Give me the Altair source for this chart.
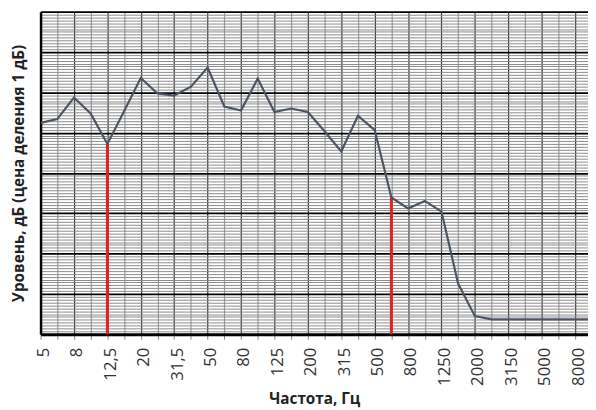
import json
import altair as alt
import pandas as pd

# Frequency categories (1/3-octave), labels use comma decimal
categories = ["5", "6,3", "8", "10", "12,5", "16", "20", "25", "31,5", "40",
              "50", "63", "80", "100", "125", "160", "200", "250", "315", "400",
              "500", "630", "800", "1000", "1250", "1600", "2000", "2500", "3150",
              "4000", "5000", "6300", "8000", "10000"]

# Level readings (units of 1 dB, arbitrary zero at bottom of grid)
levels = [73.4, 74.7, 82.2, 76.7, 66.1, 77.4, 89.0, 83.6, 82.9, 86.0,
          92.6, 79.1, 77.7, 88.8, 77.2, 78.4, 77.2, 70.5, 63.5, 75.9,
          70.9, 47.5, 43.7, 46.3, 42.6, 17.5, 6.3, 5.2, 5.2,
          5.2, 5.2, 5.2, 5.2, 5.2]

# Red marker lines (category index, level)
marker_idx = [4, 21]

df = pd.DataFrame({"i": list(range(len(categories))), "level": levels})
df_mark = pd.DataFrame({"i": marker_idx,
                        "level": [levels[k] for k in marker_idx],
                        "base": [0] * len(marker_idx)})

label_expr = ("datum.value % 2 === 0 ? " + json.dumps(categories) +
              "[datum.value] : ''")

x_scale = alt.Scale(domain=[0, 32.77], nice=False, zero=False)
y_scale = alt.Scale(domain=[0, 112], nice=False, zero=False)

x_axis = alt.Axis(
    title="Частота, Гц",
    values=list(range(0, 33)),
    tickCount=1000,
    labelExpr=label_expr,
    labelAngle=-90,
    labelAlign="right",
    labelBaseline="middle",
    labelFont="Open Sans",
    labelFontSize=17,
    labelColor="#333333",
    labelPadding=8,
    labelOffset=3,
    labelOverlap=False,
    labelFlush=False,
    tickSize=5,
    tickColor="#888888",
    domainColor="black",
    domainWidth=3,
    grid=True,
    gridColor={"condition": {"test": "datum.value % 2 === 0", "value": "#333333"},
               "value": "#9a9a9a"},
    gridWidth=1.2,
    gridOpacity=1,
    titleFont="Open Sans",
    titleFontSize=15.5,
    titleFontWeight="bold",
    titleColor="#222222",
    titlePadding=6,
)

y_axis = alt.Axis(
    title="Уровень, дБ (цена деления 1 дБ)",
    values=list(range(0, 113)),
    tickCount=1000,
    labels=False,
    ticks=False,
    domainColor="black",
    domainWidth=2.5,
    grid=True,
    gridColor={"condition": {"test": "datum.value % 14 === 0", "value": "#000000"},
               "value": "#8a8a8a"},
    gridWidth={"condition": {"test": "datum.value % 14 === 0", "value": 1.8},
               "value": 1},
    gridOpacity=1,
    titleFont="Open Sans",
    titleFontSize=15.5,
    titleFontWeight="bold",
    titleColor="#222222",
    titlePadding=14,
)

line = alt.Chart(df).mark_line(color="#4b5563", strokeWidth=2.2, clip=True).encode(
    x=alt.X("i:Q", scale=x_scale, axis=x_axis),
    y=alt.Y("level:Q", scale=y_scale, axis=y_axis),
)

rules = alt.Chart(df_mark).mark_rule(color="#e02222", strokeWidth=3).encode(
    x=alt.X("i:Q", scale=x_scale),
    y=alt.Y("base:Q", scale=y_scale),
    y2="level:Q",
)

chart = alt.layer(rules, line).properties(
    width=555,
    height=327,
    padding={"left": 33, "top": 1, "right": 0, "bottom": 74},
    autosize="none",
).configure_view(
    stroke="black",
    strokeWidth=2,
).configure(background="white")

chart.save("out.html", embed_options={"renderer": "svg", "actions": False})
